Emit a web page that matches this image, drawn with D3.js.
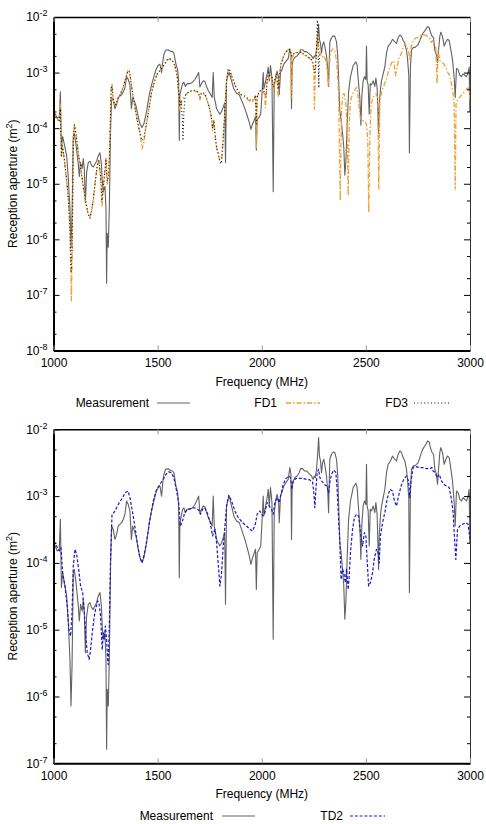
<!DOCTYPE html>
<html><head><meta charset="utf-8">
<script src="https://cdn.jsdelivr.net/npm/d3@7"></script>
<style>
body{margin:0;background:#fff;}
svg{display:block;}
text{font-family:"Liberation Sans",Arial,Helvetica,sans-serif;}
</style>
</head><body>
<svg id="chart" width="486" height="824"></svg>
<script>
// ---------------- data ----------------
const freqTicks = [1000, 1500, 2000, 2500, 3000];
const topDecades = [1e-8, 1e-7, 1e-6, 1e-5, 1e-4, 1e-3, 1e-2];
const bottomDecades = [1e-7, 1e-6, 1e-5, 1e-4, 1e-3, 1e-2];
const minorFactors = [2, 5];
const seriesNamesTop = ["Measurement", "FD1", "FD3"];
const seriesNamesBottom = ["Measurement", "TD2"];

// [frequency MHz, reception aperture m^2]
const measurement = [
[1002,2.0e-4],[1018,1.51e-4],[1028,1.6e-4],[1033,4.5e-4],[1038,4.27e-5],[1044,7.1e-5],[1055,4.5e-5],[1063,3.2e-5],[1071,1.28e-5],[1079,3.6e-6],[1084,7.2e-7],[1089,2.86e-6],[1095,7.1e-5],[1100,8.0e-5],[1108,5.07e-5],[1119,2.26e-5],[1124,1.35e-5],[1130,2.4e-5],[1138,1.9e-5],[1143,2.85e-5],[1148,1.8e-5],[1153,4.54e-6],[1159,1.6e-5],[1167,2.4e-5],[1175,2.54e-5],[1183,2.14e-5],[1191,2.0e-5],[1199,2.26e-5],[1207,2.54e-5],[1215,3.2e-5],[1223,3.6e-5],[1230,2.26e-5],[1234,1.14e-5],[1239,7.2e-6],[1247,9.0e-6],[1252,3.6e-6],[1255,1.62e-7],[1258,1.28e-6],[1263,7.2e-7],[1268,3.6e-6],[1274,9.0e-5],[1279,3.57e-4],[1287,3.18e-4],[1295,2.25e-4],[1303,2.68e-4],[1311,3.57e-4],[1319,3.78e-4],[1327,4.0e-4],[1335,4.5e-4],[1343,5.35e-4],[1351,8.45e-4],[1359,7.5e-4],[1367,6.0e-4],[1374,2.25e-4],[1380,3.57e-4],[1386,3.18e-4],[1396,2.53e-4],[1407,1.6e-4],[1415,1.2e-4],[1425,1.03e-4],[1434,1.2e-4],[1447,2.0e-4],[1460,4.0e-4],[1471,6.0e-4],[1482,8.45e-4],[1492,1.13e-3],[1502,1.34e-3],[1511,1.42e-3],[1519,1.0e-3],[1524,1.5e-3],[1530,2.12e-3],[1538,2.52e-3],[1551,2.58e-3],[1562,2.42e-3],[1572,2.38e-3],[1578,2.24e-3],[1588,1.42e-3],[1596,1.13e-3],[1601,7.1e-4],[1604,6.0e-5],[1607,4.0e-4],[1612,4.77e-4],[1620,6.34e-4],[1626,6.7e-4],[1633,5.65e-4],[1642,6.34e-4],[1655,6.34e-4],[1668,6.7e-4],[1679,7.5e-4],[1687,8.45e-4],[1697,1.0e-3],[1703,5.5e-4],[1711,6.34e-4],[1719,7.1e-4],[1727,6.9e-4],[1735,5.65e-4],[1743,4.77e-4],[1751,4.25e-4],[1762,3.57e-4],[1767,1.0e-3],[1772,3.57e-4],[1778,2.84e-4],[1783,2.25e-4],[1791,2.0e-4],[1799,1.79e-4],[1807,2.0e-4],[1815,2.39e-4],[1822,2.84e-4],[1826,2.4e-5],[1831,7.1e-4],[1838,8.95e-4],[1844,1.0e-3],[1855,7.1e-4],[1866,5.05e-4],[1879,4.25e-4],[1892,4.0e-4],[1903,3.18e-4],[1919,2.25e-4],[1930,1.69e-4],[1940,1.27e-4],[1948,9.5e-5],[1956,1.2e-4],[1962,1.35e-4],[1970,1.6e-4],[1974,4.0e-5],[1978,1.42e-4],[1988,1.6e-4],[1995,1.8e-4],[2001,4.0e-4],[2007,1.0e-3],[2010,5.05e-4],[2020,7.5e-4],[2026,9.5e-4],[2031,1.26e-3],[2036,7.1e-4],[2042,1.34e-3],[2049,8.0e-4],[2055,7.2e-6],[2060,5.65e-4],[2068,8.95e-4],[2074,1.06e-3],[2081,8.0e-4],[2084,4.0e-4],[2090,1.0e-3],[2097,1.13e-3],[2106,1.42e-3],[2116,1.59e-3],[2127,1.78e-3],[2135,2.67e-3],[2140,2.12e-3],[2143,2.25e-4],[2146,1.42e-3],[2151,1.69e-3],[2159,1.89e-3],[2170,2.0e-3],[2180,2.24e-3],[2186,2.58e-3],[2196,2.58e-3],[2205,2.38e-3],[2215,2.38e-3],[2223,2.24e-3],[2231,2.12e-3],[2239,2.0e-3],[2247,1.78e-3],[2252,2.0e-3],[2257,1.89e-3],[2263,2.52e-3],[2269,4.48e-3],[2273,7.5e-3],[2277,3.98e-3],[2282,3.36e-3],[2287,2.24e-3],[2292,3.17e-3],[2298,3.56e-3],[2305,2.67e-3],[2311,2.0e-3],[2317,1.13e-3],[2321,5.65e-4],[2324,1.59e-3],[2327,3.56e-3],[2335,4.23e-3],[2343,4.57e-3],[2351,4.48e-3],[2359,3.56e-3],[2365,2.0e-3],[2370,6.34e-4],[2375,2.0e-4],[2381,1.42e-4],[2388,8.0e-5],[2394,4.5e-5],[2399,1.43e-5],[2404,2.54e-5],[2410,1.13e-4],[2417,4.5e-4],[2426,8.45e-4],[2439,1.34e-3],[2452,1.56e-3],[2458,1.34e-3],[2465,6.34e-4],[2471,3.57e-4],[2476,1.13e-4],[2481,4.0e-4],[2487,7.1e-4],[2493,8.45e-4],[2500,7.5e-4],[2503,2.99e-3],[2506,7.1e-4],[2511,6.0e-4],[2516,1.79e-4],[2521,6.34e-4],[2527,6.0e-4],[2535,7.1e-4],[2543,5.65e-4],[2548,8.0e-4],[2554,5.35e-4],[2561,8.0e-5],[2564,2.53e-4],[2570,5.05e-4],[2575,7.1e-4],[2583,9.5e-4],[2591,1.26e-3],[2599,2.24e-3],[2607,2.99e-3],[2618,3.36e-3],[2628,3.98e-3],[2639,3.56e-3],[2647,3.36e-3],[2655,4.23e-3],[2663,4.74e-3],[2671,4.48e-3],[2679,3.77e-3],[2687,3.36e-3],[2695,2.52e-3],[2700,1.78e-3],[2706,8.95e-4],[2709,3.6e-5],[2714,1.26e-3],[2719,2.52e-3],[2727,2.83e-3],[2735,2.83e-3],[2743,2.99e-3],[2751,3.17e-3],[2759,3.77e-3],[2772,5.0e-3],[2783,5.62e-3],[2796,6.7e-3],[2804,6.45e-3],[2810,5.32e-3],[2818,4.48e-3],[2825,4.23e-3],[2831,2.52e-3],[2839,2.12e-3],[2844,1.5e-3],[2849,2.52e-3],[2855,4.48e-3],[2860,5.32e-3],[2868,4.48e-3],[2876,2.99e-3],[2884,3.56e-3],[2892,3.98e-3],[2900,3.77e-3],[2906,2.83e-3],[2916,1.69e-3],[2924,8.0e-4],[2929,3.57e-4],[2935,1.19e-3],[2943,1.13e-3],[2951,8.95e-4],[2959,8.45e-4],[2967,9.5e-4],[2975,8.95e-4],[2983,8.45e-4],[2991,1.0e-3],[2996,1.26e-3],[2999,2.0e-4],[3000,1.13e-3]
];

const fd1 = [
[1002,1.8e-4],[1015,1.46e-4],[1028,1.36e-4],[1033,2.72e-4],[1038,2.99e-5],[1044,4.53e-5],[1052,2.6e-5],[1063,1.14e-5],[1071,5.7e-6],[1079,1.44e-6],[1086,7.9e-8],[1090,7.2e-7],[1095,5.97e-5],[1100,1.19e-4],[1108,7.9e-5],[1119,3.44e-5],[1130,1.98e-5],[1143,8.6e-6],[1156,4.33e-6],[1166,2.86e-6],[1175,2.5e-6],[1183,3.3e-6],[1191,5.3e-6],[1201,1.14e-5],[1210,2.12e-5],[1218,2.6e-5],[1226,1.3e-5],[1233,3.8e-6],[1239,8.6e-6],[1247,1.72e-5],[1252,3.0e-5],[1258,9.9e-6],[1265,1.3e-5],[1271,6.0e-5],[1277,5.43e-4],[1281,6.2e-4],[1287,3.13e-4],[1297,2.54e-4],[1310,3.35e-4],[1322,4.12e-4],[1335,5.43e-4],[1348,8.2e-4],[1358,1.11e-3],[1364,1.07e-3],[1370,7.7e-4],[1380,4.12e-4],[1391,2.37e-4],[1402,1.36e-4],[1412,9.0e-5],[1420,5.97e-5],[1426,4.23e-5],[1434,5.57e-5],[1444,1.04e-4],[1457,2.07e-4],[1471,4.42e-4],[1486,7.16e-4],[1498,9.4e-4],[1511,1.08e-3],[1524,1.24e-3],[1535,1.43e-3],[1546,1.69e-3],[1559,1.76e-3],[1572,1.64e-3],[1583,1.33e-3],[1594,8.8e-4],[1601,3.85e-4],[1607,2.07e-4],[1615,2.92e-4],[1626,3.6e-4],[1639,4.12e-4],[1655,4.6e-4],[1671,4.73e-4],[1687,4.6e-4],[1697,4.12e-4],[1703,3.2e-4],[1710,4.12e-4],[1719,4.2e-4],[1729,3.85e-4],[1738,3.13e-4],[1748,2.37e-4],[1758,1.57e-4],[1764,9.0e-5],[1770,1.36e-4],[1777,6.85e-5],[1783,4.53e-5],[1791,3.44e-5],[1799,2.6e-5],[1806,2.45e-5],[1812,4.53e-5],[1818,1.04e-4],[1825,3.13e-4],[1831,7.2e-4],[1839,1.16e-3],[1847,1.07e-3],[1860,7.7e-4],[1873,5.8e-4],[1887,4.42e-4],[1903,3.85e-4],[1919,3.6e-4],[1935,3.2e-4],[1951,2.92e-4],[1962,3.13e-4],[1970,3.85e-4],[1974,4.5e-5],[1978,3.6e-4],[1988,4.42e-4],[1999,4.86e-4],[2004,4.73e-4],[2013,4.12e-4],[2018,2.3e-4],[2022,4.0e-4],[2026,7.2e-4],[2033,9.4e-4],[2039,7.7e-4],[2049,7.7e-4],[2055,4.73e-4],[2063,7.2e-4],[2071,9.4e-4],[2079,3.6e-4],[2084,8.2e-4],[2093,1.43e-3],[2103,1.88e-3],[2113,2.31e-3],[2122,2.48e-3],[2132,2.66e-3],[2138,2.66e-3],[2141,3.5e-4],[2145,1.8e-3],[2151,2.02e-3],[2157,2.22e-3],[2170,2.31e-3],[2183,2.4e-3],[2196,2.22e-3],[2209,2.02e-3],[2223,1.88e-3],[2234,1.76e-3],[2244,1.53e-3],[2250,1.08e-3],[2253,2.2e-4],[2257,1.0e-3],[2260,1.43e-3],[2265,4.3e-3],[2269,4.94e-3],[2274,2.85e-3],[2281,2.16e-3],[2289,1.88e-3],[2298,2.02e-3],[2308,1.64e-3],[2316,1.01e-3],[2319,5.8e-4],[2324,1.24e-3],[2330,2.31e-3],[2340,2.66e-3],[2351,2.48e-3],[2359,1.64e-3],[2365,8.2e-4],[2370,3.13e-4],[2373,4.53e-5],[2377,4.97e-6],[2380,4.5e-5],[2385,2.72e-4],[2391,4.12e-4],[2397,4.12e-4],[2404,2.72e-4],[2410,1.19e-4],[2415,6.1e-6],[2420,1.19e-4],[2426,3.13e-4],[2436,4.12e-4],[2445,4.73e-4],[2455,5.43e-4],[2461,4.12e-4],[2468,2.37e-4],[2474,1.46e-4],[2484,1.36e-4],[2493,1.36e-4],[2503,1.19e-4],[2509,5.97e-5],[2514,3.07e-6],[2519,5.97e-5],[2525,2.72e-4],[2535,3.6e-4],[2548,4.12e-4],[2557,3.6e-4],[2562,8.05e-6],[2567,3.13e-4],[2577,4.73e-4],[2586,5.8e-4],[2596,7.2e-4],[2605,9.4e-4],[2615,1.24e-3],[2625,1.53e-3],[2634,1.64e-3],[2642,8.8e-4],[2650,1.24e-3],[2660,1.88e-3],[2669,2.16e-3],[2679,2.85e-3],[2689,3.27e-3],[2698,2.85e-3],[2706,2.31e-3],[2711,1.64e-3],[2717,2.85e-3],[2727,3.75e-3],[2740,4.19e-3],[2753,4.3e-3],[2765,4.62e-3],[2778,4.8e-3],[2791,4.62e-3],[2804,4.3e-3],[2813,3.5e-3],[2820,3.75e-3],[2826,3.05e-3],[2836,2.85e-3],[2842,6.24e-4],[2847,2.48e-3],[2855,1.64e-3],[2865,1.53e-3],[2874,1.43e-3],[2884,1.24e-3],[2893,1.01e-3],[2903,8.8e-4],[2911,6.24e-4],[2919,4.12e-4],[2924,2.72e-4],[2929,8.05e-6],[2933,2.72e-4],[2941,3.35e-4],[2951,3.6e-4],[2964,4.12e-4],[2977,4.73e-4],[2989,5.3e-4],[2996,4.73e-4],[3000,2.92e-4]
];

const fd3 = [
[1002,1.8e-4],[1015,1.5e-4],[1028,1.3e-4],[1033,2.2e-4],[1038,3.2e-5],[1044,4.8e-5],[1052,2.8e-5],[1063,1.2e-5],[1071,5.5e-6],[1079,1.6e-6],[1085,2.5e-7],[1090,8.0e-7],[1095,6.0e-5],[1100,1.15e-4],[1108,8.0e-5],[1119,3.6e-5],[1130,2.0e-5],[1143,9.0e-6],[1156,4.5e-6],[1166,2.9e-6],[1175,2.4e-6],[1183,3.2e-6],[1191,5.2e-6],[1201,1.1e-5],[1210,2.1e-5],[1218,2.7e-5],[1226,1.4e-5],[1233,5.0e-6],[1239,9.0e-6],[1247,1.7e-5],[1252,2.8e-5],[1258,1.1e-5],[1265,1.4e-5],[1271,7.0e-5],[1277,5.2e-4],[1281,6.0e-4],[1287,3.2e-4],[1297,2.6e-4],[1310,3.4e-4],[1322,4.2e-4],[1335,5.5e-4],[1348,8.3e-4],[1358,1.08e-3],[1364,1.05e-3],[1370,7.8e-4],[1380,4.2e-4],[1391,2.4e-4],[1402,1.4e-4],[1412,9.5e-5],[1420,7.0e-5],[1426,6.0e-5],[1434,6.5e-5],[1444,1.1e-4],[1457,2.1e-4],[1471,4.4e-4],[1486,7.2e-4],[1498,9.4e-4],[1511,1.08e-3],[1524,1.25e-3],[1535,1.45e-3],[1546,1.7e-3],[1559,1.77e-3],[1572,1.62e-3],[1583,1.32e-3],[1594,8.8e-4],[1601,4.5e-4],[1607,2.6e-4],[1613,3.2e-4],[1618,1.5e-4],[1622,6.0e-5],[1626,2.0e-4],[1632,3.8e-4],[1639,4.2e-4],[1655,4.6e-4],[1671,4.8e-4],[1687,4.7e-4],[1697,4.3e-4],[1703,3.6e-4],[1710,4.3e-4],[1719,4.4e-4],[1729,4.0e-4],[1738,3.2e-4],[1748,2.4e-4],[1758,1.6e-4],[1764,1.0e-4],[1770,1.4e-4],[1777,7.0e-5],[1783,4.5e-5],[1791,3.4e-5],[1799,2.5e-5],[1806,2.3e-5],[1812,4.3e-5],[1818,1.0e-4],[1825,3.1e-4],[1831,7.2e-4],[1839,1.17e-3],[1847,1.08e-3],[1860,7.8e-4],[1873,5.9e-4],[1887,4.6e-4],[1903,4.0e-4],[1919,3.8e-4],[1935,3.4e-4],[1951,3.1e-4],[1962,3.3e-4],[1970,3.9e-4],[1974,1.2e-4],[1978,3.6e-4],[1988,4.6e-4],[1999,5.0e-4],[2004,5.2e-4],[2013,4.4e-4],[2020,3.6e-4],[2026,7.5e-4],[2033,1.0e-3],[2039,8.5e-4],[2049,8.2e-4],[2055,5.5e-4],[2063,7.5e-4],[2071,9.5e-4],[2079,5.0e-4],[2084,8.5e-4],[2093,1.45e-3],[2103,1.9e-3],[2113,2.3e-3],[2122,2.45e-3],[2132,2.6e-3],[2138,2.5e-3],[2143,2.0e-3],[2148,2.1e-3],[2157,2.25e-3],[2170,2.3e-3],[2183,2.35e-3],[2196,2.2e-3],[2209,2.05e-3],[2223,1.9e-3],[2234,1.8e-3],[2244,1.6e-3],[2250,1.3e-3],[2255,1.0e-3],[2260,1.6e-3],[2264,3.5e-3],[2267,8.8e-3],[2270,5.0e-3],[2272,1.5e-3],[2274,5.3e-4],[2277,2.2e-3],[2281,2.2e-3]
];

const td2 = [
[1002,2.13e-4],[1015,1.79e-4],[1028,1.51e-4],[1036,1.69e-4],[1044,7.1e-5],[1055,4.5e-5],[1066,2.26e-5],[1074,1.0e-5],[1082,8.0e-6],[1089,1.79e-5],[1095,9.0e-5],[1103,1.6e-4],[1111,1.35e-4],[1121,8.0e-5],[1130,4.5e-5],[1140,3.6e-5],[1148,1.79e-5],[1156,7.2e-6],[1162,4.54e-6],[1171,3.6e-6],[1178,5.0e-6],[1186,9.0e-6],[1196,1.6e-5],[1204,2.14e-5],[1212,2.7e-5],[1218,2.54e-5],[1226,1.6e-5],[1234,5.0e-6],[1239,9.0e-6],[1244,7.2e-6],[1249,1.13e-5],[1255,7.2e-6],[1260,3.6e-6],[1263,3.0e-6],[1268,1.13e-5],[1274,1.13e-4],[1281,5.35e-4],[1290,5.65e-4],[1303,6.7e-4],[1316,8.0e-4],[1332,9.5e-4],[1345,1.13e-3],[1358,1.19e-3],[1367,9.5e-4],[1380,5.65e-4],[1393,3.18e-4],[1406,1.69e-4],[1415,1.2e-4],[1425,1.0e-4],[1436,1.35e-4],[1450,2.39e-4],[1463,4.5e-4],[1479,8.45e-4],[1495,1.26e-3],[1511,1.5e-3],[1527,1.78e-3],[1540,2.12e-3],[1553,2.3e-3],[1566,2.24e-3],[1578,1.89e-3],[1591,1.19e-3],[1601,8.0e-4],[1609,3.57e-4],[1617,4.0e-4],[1630,5.65e-4],[1642,6.34e-4],[1658,6.5e-4],[1674,6.7e-4],[1690,6.5e-4],[1700,6.0e-4],[1706,5.35e-4],[1716,6.34e-4],[1727,6.7e-4],[1738,5.65e-4],[1751,4.25e-4],[1764,2.53e-4],[1775,3.18e-4],[1783,2.0e-4],[1793,8.0e-5],[1799,4.5e-5],[1807,7.1e-5],[1815,1.79e-4],[1823,3.57e-4],[1831,7.1e-4],[1842,1.03e-3],[1855,8.45e-4],[1871,6.0e-4],[1887,4.77e-4],[1908,4.0e-4],[1927,3.57e-4],[1943,3.18e-4],[1956,3.0e-4],[1969,3.78e-4],[1978,5.35e-4],[1991,6.0e-4],[1999,5.35e-4],[2007,5.05e-4],[2015,5.65e-4],[2026,8.0e-4],[2036,7.1e-4],[2047,6.34e-4],[2055,5.35e-4],[2063,8.0e-4],[2074,9.5e-4],[2084,8.0e-4],[2090,1.0e-3],[2103,1.5e-3],[2116,1.83e-3],[2129,2.0e-3],[2138,1.89e-3],[2145,1.26e-3],[2151,1.69e-3],[2164,1.83e-3],[2180,1.85e-3],[2199,1.83e-3],[2215,1.78e-3],[2231,1.75e-3],[2244,1.63e-3],[2250,1.13e-3],[2255,6.7e-4],[2260,1.26e-3],[2266,2.24e-3],[2273,2.52e-3],[2279,1.89e-3],[2287,1.69e-3],[2295,1.59e-3],[2305,1.45e-3],[2314,1.42e-3],[2321,1.13e-3],[2327,1.59e-3],[2335,2.12e-3],[2346,2.45e-3],[2356,2.24e-3],[2362,1.26e-3],[2369,4.5e-4],[2375,2.0e-4],[2381,5.65e-5],[2388,8.0e-5],[2394,7.1e-5],[2401,5.07e-5],[2407,8.0e-5],[2415,4.0e-5],[2420,6.3e-5],[2426,1.42e-4],[2436,3.18e-4],[2445,4.77e-4],[2455,5.35e-4],[2465,5.05e-4],[2474,2.84e-4],[2484,1.79e-4],[2493,2.84e-4],[2500,2.53e-4],[2506,1.13e-4],[2513,4.5e-5],[2522,5.07e-5],[2532,7.1e-5],[2540,1.13e-4],[2551,1.6e-4],[2559,1.42e-4],[2564,1.0e-4],[2570,2.53e-4],[2580,4.0e-4],[2591,5.65e-4],[2602,8.95e-4],[2615,1.26e-3],[2628,1.19e-3],[2637,8.45e-4],[2647,7.1e-4],[2657,1.0e-3],[2669,1.42e-3],[2682,1.78e-3],[2695,2.0e-3],[2705,1.69e-3],[2711,9.5e-4],[2717,1.69e-3],[2727,2.67e-3],[2743,2.76e-3],[2759,2.67e-3],[2775,2.67e-3],[2791,2.58e-3],[2807,2.58e-3],[2817,2.67e-3],[2823,2.38e-3],[2833,2.24e-3],[2842,1.89e-3],[2852,2.12e-3],[2863,1.69e-3],[2874,1.5e-3],[2887,1.42e-3],[2900,1.34e-3],[2911,8.95e-4],[2919,5.65e-4],[2925,2.53e-4],[2932,1.13e-4],[2940,3.18e-4],[2951,3.57e-4],[2964,3.78e-4],[2980,4.0e-4],[2991,3.78e-4],[3000,2.25e-4]
];

// ---------------- drawing ----------------
const svg = d3.select("#chart");
const X0 = 53.5, X1 = 470;

const styles = {
  "Measurement": {stroke: "#626262", width: 1.1, dash: null},
  "FD1": {stroke: "#f0a030", width: 1.3, dash: "5,2,1.5,2"},
  "FD3": {stroke: "#111111", width: 1.1, dash: "1,2.4"},
  "TD2": {stroke: "#1818c8", width: 1.2, dash: "3,1.8"}
};

function supLabel(sel, base, exp) {
  sel.text(null);
  sel.append("tspan").text(base);
  sel.append("tspan").attr("dy", -5).attr("font-size", 9).text(exp);
}

function panel(cfg) {
  const x = d3.scaleLinear().domain([freqTicks[0], freqTicks[freqTicks.length-1]]).range([X0, X1]);
  const y = d3.scaleLog().domain([cfg.decades[0], cfg.decades[cfg.decades.length-1]]).range([cfg.bottom, cfg.top]);
  const g = svg.append("g");
  const clipId = "clip" + cfg.id;
  g.append("clipPath").attr("id", clipId).append("rect")
    .attr("x", X0).attr("y", cfg.top).attr("width", X1 - X0).attr("height", cfg.bottom - cfg.top);

  const minors = [];
  cfg.decades.slice(0, -1).forEach(d => minorFactors.forEach(f => minors.push(d * f)));

  const line = d3.line().x(d => x(d[0])).y(d => y(d[1]));
  const plot = g.append("g").attr("clip-path", `url(#${clipId})`);
  cfg.series.forEach(s => {
    const st = styles[s.name];
    plot.append("path").datum(s.data).attr("d", line)
      .attr("fill", "none").attr("stroke", st.stroke).attr("stroke-width", st.width)
      .attr("stroke-dasharray", st.dash).attr("stroke-linejoin", "round");
  });

  const fontAttrs = a => a.attr("font-family", '"Liberation Sans", Arial, sans-serif').attr("font-size", 12);

  // left axis
  const left = g.append("g").attr("transform", `translate(${X0},0)`)
    .call(d3.axisLeft(y).tickValues(cfg.decades).tickSize(-6).tickSizeOuter(0).tickPadding(6));
  fontAttrs(left);
  left.selectAll(".tick text").attr("fill", "#000").each(function(d) {
    supLabel(d3.select(this), "10", String(Math.round(Math.log10(d))));
  });
  left.select(".domain").attr("stroke", "#000").attr("stroke-width", 2);
  g.append("g").attr("transform", `translate(${X0},0)`)
    .call(d3.axisLeft(y).tickValues(minors).tickSize(-3).tickFormat(""))
    .select(".domain").remove();

  // right axis
  const right = g.append("g").attr("transform", `translate(${X1},0)`)
    .call(d3.axisRight(y).tickValues(cfg.decades).tickSize(-6).tickSizeOuter(0).tickFormat(""));
  right.select(".domain").attr("stroke", "#333").attr("stroke-width", 1);
  g.append("g").attr("transform", `translate(${X1},0)`)
    .call(d3.axisRight(y).tickValues(minors).tickSize(-3).tickFormat(""))
    .select(".domain").remove();

  // top axis
  const topAx = g.append("g").attr("transform", `translate(0,${cfg.top})`)
    .call(d3.axisTop(x).tickValues(freqTicks).tickSize(-5).tickSizeOuter(0).tickFormat(""));
  topAx.select(".domain").attr("stroke", "#000").attr("stroke-width", 1.5);
  topAx.selectAll(".tick line").attr("stroke", "#999");

  // bottom axis
  const bot = g.append("g").attr("transform", `translate(0,${cfg.bottom})`)
    .call(d3.axisBottom(x).tickValues(freqTicks).tickSize(-5).tickSizeOuter(0).tickPadding(8).tickFormat(d3.format("d")));
  fontAttrs(bot);
  bot.selectAll(".tick text").attr("fill", "#000");
  bot.selectAll(".tick line").attr("stroke", "#999");
  bot.select(".domain").attr("stroke", "#000").attr("stroke-width", 2);

  // axis titles
  const yl = g.append("text")
    .attr("transform", `translate(17,${(cfg.top + cfg.bottom) / 2}) rotate(-90)`)
    .attr("text-anchor", "middle").attr("font-size", 12).attr("fill", "#000");
  yl.append("tspan").text("Reception aperture (m");
  yl.append("tspan").attr("dy", -5).attr("font-size", 9).text("2");
  yl.append("tspan").attr("dy", 5).text(")");

  g.append("text").attr("x", (X0 + X1) / 2).attr("y", cfg.bottom + 35)
    .attr("text-anchor", "middle").attr("font-size", 12).attr("fill", "#000").text("Frequency (MHz)");

  // legend
  cfg.legend.forEach(l => {
    const st = styles[l.name];
    g.append("text").attr("x", l.textRight).attr("y", cfg.legendY + 4)
      .attr("text-anchor", "end").attr("font-size", 12).attr("fill", "#000").text(l.name);
    g.append("line").attr("x1", l.x1).attr("x2", l.x2).attr("y1", cfg.legendY).attr("y2", cfg.legendY)
      .attr("stroke", st.stroke).attr("stroke-width", st.width).attr("stroke-dasharray", st.dash);
  });
}

panel({
  id: "top", top: 17, bottom: 350.5, decades: topDecades,
  series: [{name: seriesNamesTop[0], data: measurement}, {name: seriesNamesTop[1], data: fd1}, {name: seriesNamesTop[2], data: fd3}],
  legendY: 403,
  legend: [
    {name: seriesNamesTop[0], textRight: 149, x1: 157, x2: 190},
    {name: seriesNamesTop[1], textRight: 277, x1: 286, x2: 320},
    {name: seriesNamesTop[2], textRight: 408, x1: 414, x2: 450}
  ]
});

panel({
  id: "bottom", top: 429.3, bottom: 763.3, decades: bottomDecades,
  series: [{name: seriesNamesBottom[0], data: measurement}, {name: seriesNamesBottom[1], data: td2}],
  legendY: 816,
  legend: [
    {name: seriesNamesBottom[0], textRight: 213, x1: 222, x2: 255},
    {name: seriesNamesBottom[1], textRight: 343, x1: 350, x2: 385}
  ]
});
</script>
</body></html>
